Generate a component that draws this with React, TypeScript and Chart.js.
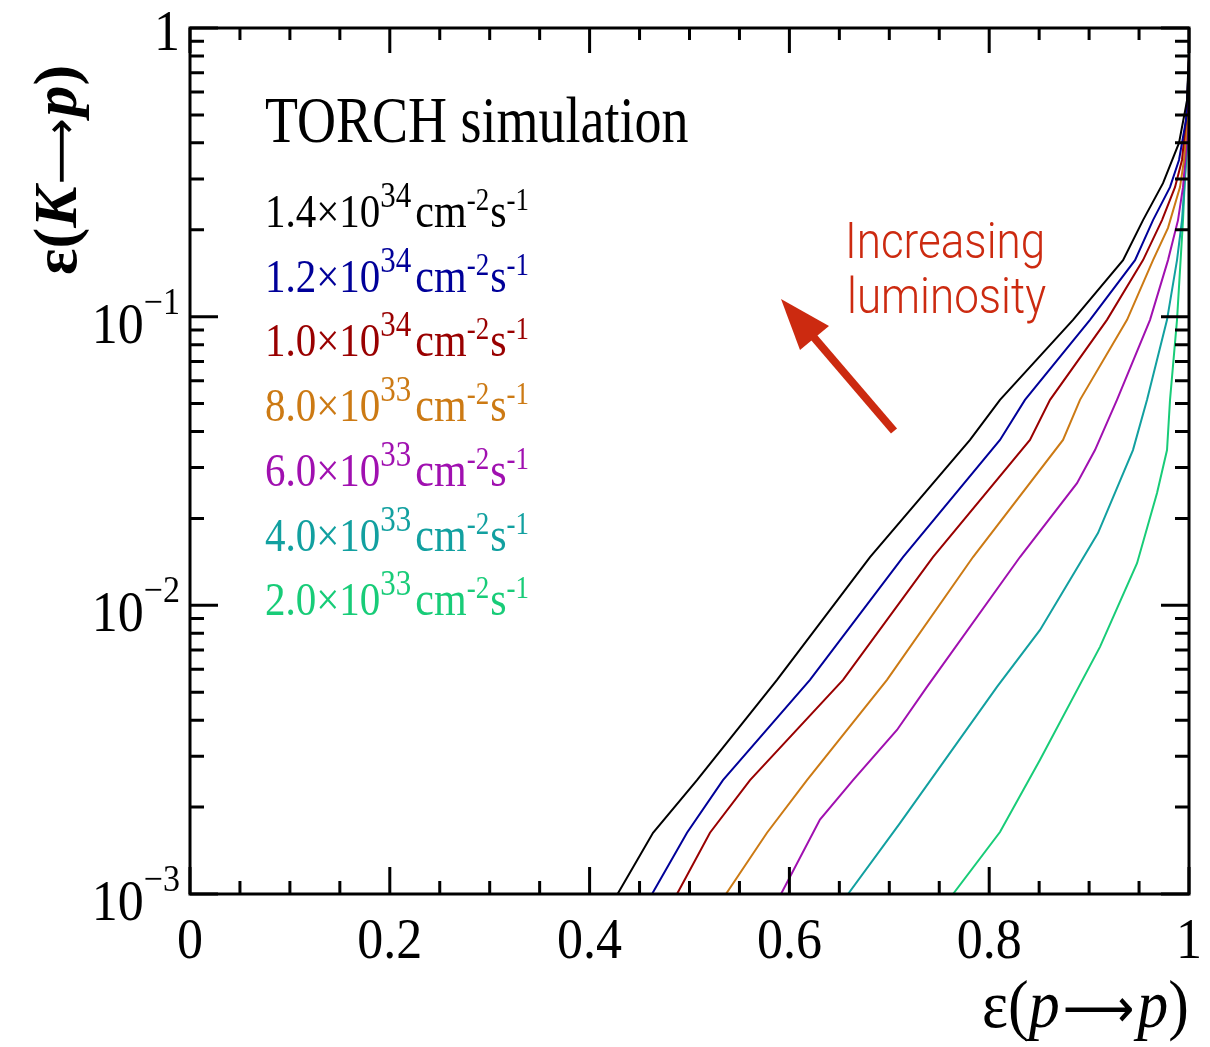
import React, { useEffect, useRef } from "react";
import { Chart, registerables } from "chart.js";

Chart.register(...registerables);

// ---- data ----
const xBlack = [0.428, 0.4635, 0.5075, 0.5876, 0.6807, 0.7808, 0.8108, 0.8839, 0.934, 0.954, 0.974, 0.99, 0.998, 1.0];
const yBlack = [0.001, 0.00163, 0.00248, 0.00552, 0.0147, 0.0374, 0.0515, 0.0975, 0.157, 0.216, 0.29, 0.4, 0.56, 0.84];

const xBlue = [0.4625, 0.4975, 0.5335, 0.6206, 0.7137, 0.8108, 0.8358, 0.9009, 0.946, 0.964, 0.981, 0.99, 0.997, 1.0];
const yBlue = [0.001, 0.00163, 0.00248, 0.00552, 0.0147, 0.0374, 0.0515, 0.0975, 0.157, 0.216, 0.281, 0.349, 0.48, 0.775];

const xRed = [0.4875, 0.5205, 0.5606, 0.6537, 0.7437, 0.8408, 0.8609, 0.9179, 0.954, 0.973, 0.986, 0.993, 0.998, 1.0];
const yRed = [0.001, 0.00163, 0.00248, 0.00552, 0.0147, 0.0374, 0.0515, 0.0975, 0.157, 0.216, 0.281, 0.349, 0.52, 0.81];

const xOrange = [0.5365, 0.5776, 0.6176, 0.6977, 0.7838, 0.8739, 0.8909, 0.938, 0.964, 0.979, 0.991, 0.995, 0.999, 1.0];
const yOrange = [0.001, 0.00163, 0.00248, 0.00552, 0.0147, 0.0374, 0.0515, 0.0975, 0.157, 0.203, 0.281, 0.349, 0.52, 0.775];

const xPurple = [0.5916, 0.6306, 0.6637, 0.7077, 0.7377, 0.8308, 0.8879, 0.9059, 0.9279, 0.961, 0.979, 0.989, 0.994, 0.998, 1.0];
const yPurple = [0.001, 0.00181, 0.00248, 0.0037, 0.00522, 0.0147, 0.0265, 0.0345, 0.0515, 0.0975, 0.157, 0.216, 0.281, 0.41, 0.775];

const xTeal = [0.6587, 0.7107, 0.8078, 0.8509, 0.9089, 0.9439, 0.958, 0.978, 0.988, 0.993, 0.998, 1.0];
const yTeal = [0.001, 0.00176, 0.00522, 0.00822, 0.0178, 0.0345, 0.0515, 0.0975, 0.157, 0.216, 0.378, 0.775];

const xGreen = [0.7638, 0.8108, 0.8509, 0.9109, 0.948, 0.968, 0.978, 0.981, 0.988, 0.994, 0.998, 1.0];
const yGreen = [0.001, 0.00164, 0.00292, 0.00718, 0.014, 0.0245, 0.0345, 0.0515, 0.0975, 0.216, 0.443, 0.775];

const lumiMantissa = ["1.4", "1.2", "1.0", "8.0", "6.0", "4.0", "2.0"];
const lumiExponent = ["34", "34", "34", "33", "33", "33", "33"];
const seriesColors = ["#000000", "#000099", "#990000", "#cc7a14", "#a010b0", "#12a0a0", "#18cc78"];
const seriesX = [xBlack, xBlue, xRed, xOrange, xPurple, xTeal, xGreen];
const seriesY = [yBlack, yBlue, yRed, yOrange, yPurple, yTeal, yGreen];

const xTickValues = [0, 0.2, 0.4, 0.6, 0.8, 1];
const xTickLabels = ["0", "0.2", "0.4", "0.6", "0.8", "1"];
const yTickValues = [1, 0.1, 0.01, 0.001];
const yTickExponents = ["", "\u22121", "\u22122", "\u22123"];

const titleText = "TORCH simulation";
const annotationLines = ["Increasing", "luminosity"];

const SERIF = '"Liberation Serif", "Times New Roman", Times, serif';
const SANS = 'Roboto, "Liberation Sans", Arial, sans-serif';
const ARROWF = '"DejaVu Sans", "DejaVu Serif", sans-serif';

type Run = { t: string; size: number; italic?: boolean; bold?: boolean; dy?: number; family?: string; weight?: number; gap?: number };

function fontOf(r: Run) {
  const w = r.bold ? "bold " : r.weight ? `${r.weight} ` : "";
  return `${r.italic ? "italic " : ""}${w}${r.size}px ${r.family || SERIF}`;
}

function drawRuns(
  ctx: CanvasRenderingContext2D,
  runs: Run[],
  x: number,
  y: number,
  opts: { align?: "left" | "right" | "center"; sy?: number; color?: string; rotate?: boolean }
) {
  const sy = opts.sy ?? 1;
  ctx.save();
  let w = 0;
  for (const r of runs) {
    ctx.font = fontOf(r);
    w += ctx.measureText(r.t).width + (r.gap || 0);
  }
  ctx.translate(x, y);
  ctx.scale(1, sy);
  if (opts.rotate) ctx.rotate(-Math.PI / 2);
  let cx = opts.align === "right" ? -w : opts.align === "center" ? -w / 2 : 0;
  ctx.textAlign = "left";
  ctx.textBaseline = "alphabetic";
  ctx.fillStyle = opts.color || "#000";
  for (const r of runs) {
    ctx.font = fontOf(r);
    const dy = r.dy ? (opts.rotate ? r.dy : r.dy / sy) : 0;
    ctx.fillText(r.t, cx, dy);
    cx += ctx.measureText(r.t).width + (r.gap || 0);
  }
  ctx.restore();
}

const decor = {
  id: "decor",
  afterDatasetsDraw(chart: any) {
    const ctx: CanvasRenderingContext2D = chart.ctx;
    const { left, right, top, bottom } = chart.chartArea;
    const xs = chart.scales.x;
    const ys = chart.scales.y;
    ctx.save();
    ctx.strokeStyle = "#000";
    ctx.lineWidth = 3;
    ctx.lineCap = "butt";
    // frame
    ctx.strokeRect(left, top, right - left, bottom - top);

    // x ticks (bottom & top)
    ctx.beginPath();
    for (let i = 0; i <= 20; i++) {
      const v = i * 0.05;
      const px = xs.getPixelForValue(v);
      const major = i % 4 === 0;
      const lb = major ? 27 : 13;
      const lt = major ? 25 : 12;
      ctx.moveTo(px, bottom);
      ctx.lineTo(px, bottom - lb);
      ctx.moveTo(px, top);
      ctx.lineTo(px, top + lt);
    }
    // y ticks (left & right)
    for (let e = -3; e <= 0; e++) {
      for (let k = 1; k <= 9; k++) {
        const v = k * Math.pow(10, e);
        if (v > 1.0001) break;
        const py = ys.getPixelForValue(v);
        const len = k === 1 ? 28 : 14;
        ctx.moveTo(left, py);
        ctx.lineTo(left + len, py);
        ctx.moveTo(right, py);
        ctx.lineTo(right - len, py);
      }
    }
    ctx.stroke();

    // x tick labels
    xTickValues.forEach((v, i) => {
      const px = xs.getPixelForValue(v);
      drawRuns(ctx, [{ t: xTickLabels[i], size: 52 }], px, 958, { align: "center", sy: 1.1 });
    });

    // y tick labels
    yTickValues.forEach((v, i) => {
      const py = ys.getPixelForValue(v);
      if (yTickExponents[i] === "") {
        drawRuns(ctx, [{ t: "1", size: 52 }], 180, py + 22, { align: "right", sy: 1.1 });
      } else {
        drawRuns(
          ctx,
          [
            { t: "10", size: 52 },
            { t: yTickExponents[i], size: 34, dy: -29 },
          ],
          180,
          py + 26,
          { align: "right", sy: 1.1 }
        );
      }
    });

    // axis titles
    drawRuns(
      ctx,
      [
        { t: "\u03b5(", size: 62 },
        { t: "p", size: 62, italic: true, gap: 3 },
        { t: "\u27f6", size: 50, family: ARROWF, gap: 3 },
        { t: "p", size: 62, italic: true },
        { t: ")", size: 62 },
      ],
      1189,
      1027,
      { align: "right", sy: 1.1 }
    );
    drawRuns(
      ctx,
      [
        { t: "\u03b5(", size: 62, bold: true },
        { t: "K", size: 62, bold: true, italic: true, gap: 2 },
        { t: "\u27f6", size: 46, family: ARROWF, gap: 2 },
        { t: "p", size: 62, bold: true, italic: true },
        { t: ")", size: 62, bold: true },
      ],
      76,
      275,
      { align: "left", sy: 1.0, rotate: true }
    );

    // title
    drawRuns(ctx, [{ t: titleText, size: 54 }], 265, 142, { sy: 1.2 });

    // legend (coloured text)
    lumiMantissa.forEach((m, i) => {
      const base = 227 + i * 64.7;
      drawRuns(
        ctx,
        [
          { t: m + "\u00d710", size: 41 },
          { t: lumiExponent[i], size: 31, dy: -20, gap: 4 },
          { t: "cm", size: 42 },
          { t: "-2", size: 27, dy: -17, gap: 1 },
          { t: "s", size: 42 },
          { t: "-1", size: 27, dy: -17 },
        ],
        265,
        base,
        { sy: 1.15, color: seriesColors[i] }
      );
    });

    // annotation
    const red = "#cc2a10";
    drawRuns(ctx, [{ t: annotationLines[0], size: 44, family: SANS, weight: 300 }], 845, 258, { color: red, sy: 1.12 });
    drawRuns(ctx, [{ t: annotationLines[1], size: 44, family: SANS, weight: 300 }], 847, 313, { color: red, sy: 1.12 });

    // arrow
    ctx.strokeStyle = red;
    ctx.fillStyle = red;
    ctx.lineWidth = 8;
    ctx.beginPath();
    ctx.moveTo(894, 431);
    ctx.lineTo(805, 327);
    ctx.stroke();
    ctx.beginPath();
    ctx.moveTo(781, 299);
    ctx.lineTo(800, 350);
    ctx.lineTo(829, 326);
    ctx.closePath();
    ctx.fill();

    ctx.restore();
  },
};

export default function App() {
  const canvasRef = useRef<HTMLCanvasElement | null>(null);

  useEffect(() => {
    const canvas = canvasRef.current;
    if (!canvas) return;
    const datasets = seriesX.map((xs, i) => ({
      label: `${lumiMantissa[i]}e${lumiExponent[i]}`,
      data: xs.map((x, j) => ({ x, y: seriesY[i][j] })),
      borderColor: seriesColors[i],
      backgroundColor: seriesColors[i],
      borderWidth: 2,
      pointRadius: 0,
      tension: 0,
      fill: false,
    }));
    const chart = new Chart(canvas, {
      type: "line",
      data: { datasets },
      options: {
        animation: false,
        responsive: false,
        devicePixelRatio: 1,
        parsing: false as any,
        layout: { padding: { left: 190, top: 28, right: 21, bottom: 153 } },
        scales: {
          x: { type: "linear", min: 0, max: 1, display: false },
          y: { type: "logarithmic", min: 0.001, max: 1, display: false },
        },
        plugins: { legend: { display: false }, tooltip: { enabled: false } },
      },
      plugins: [decor],
    } as any);
    return () => chart.destroy();
  }, []);

  return (
    <div style={{ position: "absolute", left: 0, top: 0, width: 1210, height: 1047, background: "#fff" }}>
      <canvas ref={canvasRef} width={1210} height={1047} style={{ display: "block" }} />
    </div>
  );
}
